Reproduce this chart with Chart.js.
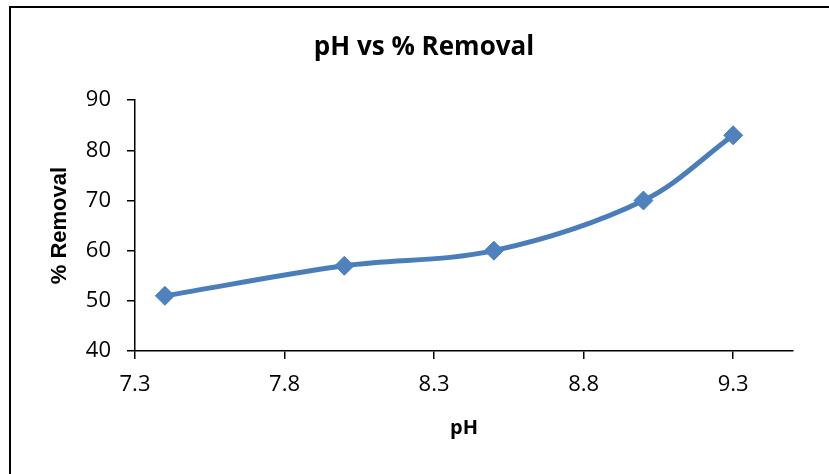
<!DOCTYPE html>
<html>
<head>
<meta charset="utf-8">
<script src="https://cdn.jsdelivr.net/npm/chart.js@4/dist/chart.umd.min.js"></script>
<style>
  html, body { margin: 0; padding: 0; background: #fff; }
  #wrap { position: relative; width: 829px; height: 474px; overflow: hidden; }
  #frame { position: absolute; left: 9px; top: 6px; width: 900px; height: 600px; border: 2px solid #000; box-sizing: border-box; pointer-events: none; }
  canvas { position: absolute; left: 0; top: 0; }
</style>
</head>
<body>
<div id="wrap">
  <canvas id="c"></canvas>
  <div id="frame"></div>
</div>
<script>
// ---- data ----
const phValues = [7.4, 8.0, 8.5, 9.0, 9.3];
const removalValues = [51, 57, 60, 70, 83];
const xTickValues = [7.3, 7.8, 8.3, 8.8, 9.3];
const yTickValues = [40, 50, 60, 70, 80, 90];
const chartTitle = 'pH vs % Removal';
const xTitle = 'pH';
const yTitle = '% Removal';

const points = phValues.map((x, i) => ({ x: x, y: removalValues[i] }));
const tickFont = { family: 'Open Sans', size: 22 };

// Centre the chart title across the frame rather than the padded layout box
const titleShift = {
  id: 'titleShift',
  afterLayout(chart) {
    if (chart.titleBlock) {
      chart.titleBlock.left = 19;
      chart.titleBlock.right = 829;
    }
  }
};

new Chart(document.getElementById('c'), {
  type: 'scatter',
  data: {
    datasets: [{
      data: points,
      showLine: true,
      borderColor: '#4A7EBB',
      backgroundColor: '#4A7EBB',
      borderWidth: 5,
      tension: 0.35,
      pointStyle: 'rectRot',
      pointRadius: 9.5,
      pointBorderWidth: 1,
      pointBackgroundColor: '#4F81BD',
      pointBorderColor: '#4A7EBB'
    }]
  },
  plugins: [titleShift],
  options: {
    responsive: true,
    maintainAspectRatio: false,
    animation: false,
    layout: { padding: { left: 0, right: 36, top: 0, bottom: 0 } },
    plugins: {
      legend: { display: false },
      tooltip: { enabled: false },
      title: {
        display: true,
        text: chartTitle,
        color: '#000',
        font: { family: 'Open Sans', size: 26, weight: 'bold' },
        padding: { top: 32, bottom: 37 }
      }
    },
    scales: {
      x: {
        type: 'linear',
        min: 7.3,
        max: 9.5,
        afterBuildTicks: (s) => { s.ticks = xTickValues.map(v => ({ value: v })); },
        afterFit: (s) => { s.height = 123; },
        ticks: {
          color: '#000',
          font: tickFont,
          padding: 13,
          maxRotation: 0,
          autoSkip: false,
          callback: (v) => Number(v).toFixed(1)
        },
        grid: { drawOnChartArea: false, drawTicks: true, tickLength: 8, color: '#000', lineWidth: 1.5 },
        border: { display: true, color: '#000', width: 1.5 },
        title: {
          display: true,
          text: xTitle,
          color: '#000',
          font: { family: 'Open Sans', size: 20, weight: 'bold' },
          padding: { top: 0, bottom: 34 }
        }
      },
      y: {
        type: 'linear',
        min: 40,
        max: 90,
        afterBuildTicks: (s) => { s.ticks = yTickValues.map(v => ({ value: v })); },
        afterFit: (s) => { s.width = 135; },
        ticks: {
          color: '#000',
          font: tickFont,
          padding: 16
        },
        grid: { drawOnChartArea: false, drawTicks: true, tickLength: 8, color: '#000', lineWidth: 1.5 },
        border: { display: true, color: '#000', width: 1.5 },
        title: {
          display: true,
          text: yTitle,
          color: '#000',
          font: { family: 'Liberation Sans', size: 22, weight: 'bold' },
          padding: { top: 47, bottom: 0 }
        }
      }
    }
  }
});
</script>
</body>
</html>
